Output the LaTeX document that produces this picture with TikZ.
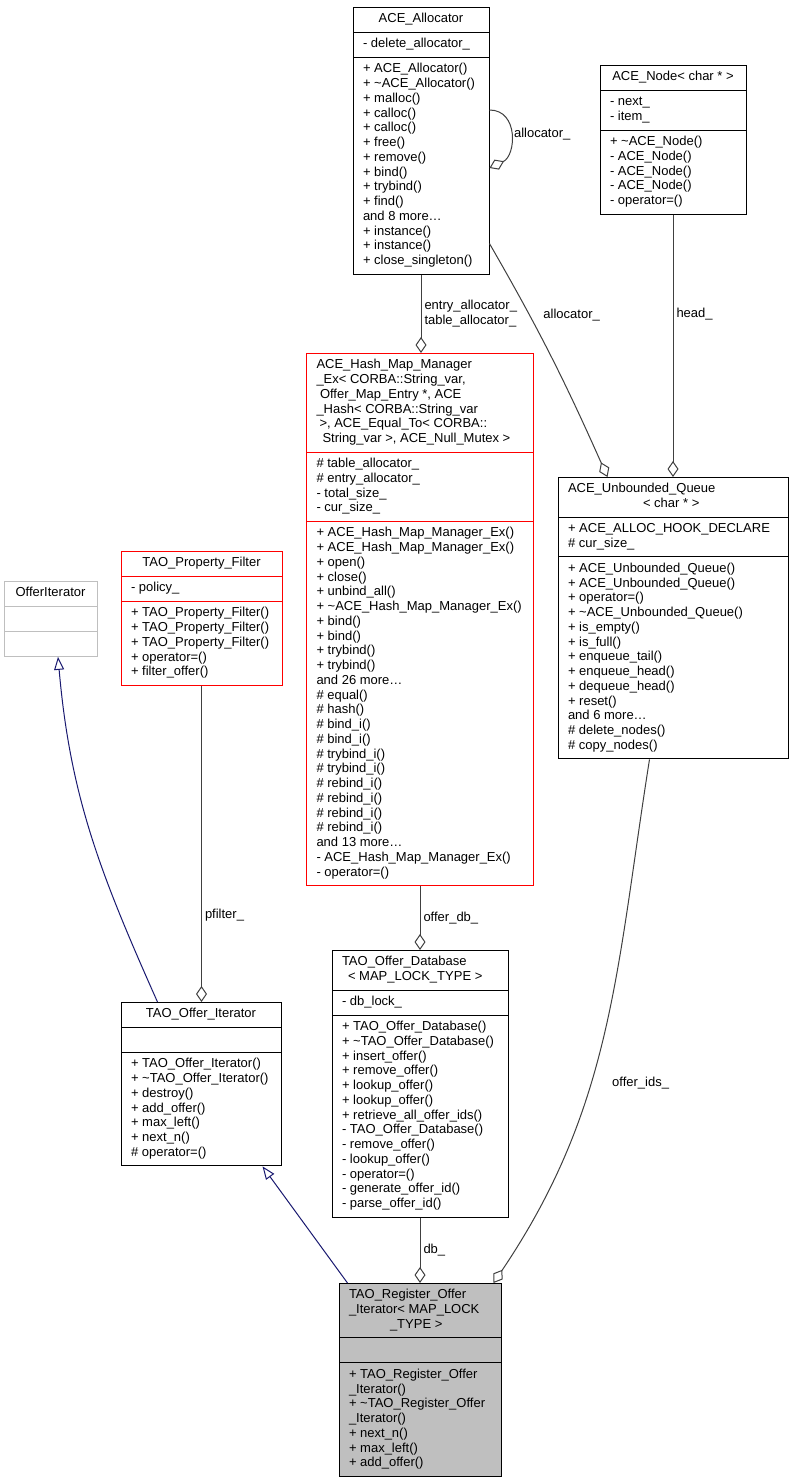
\documentclass[tikz,border=0pt]{standalone}
\usepackage{fontspec}
\setmainfont{Liberation Sans}
\usepackage{tikz}
\usetikzlibrary{shapes.multipart,arrows.meta}

\definecolor{edgegray}{RGB}{64,64,64}
\definecolor{inhblue}{RGB}{25,25,112}
\definecolor{boxgray}{RGB}{191,191,191}
\definecolor{boxred}{RGB}{255,0,0}

\newcommand{\clsrows}[1]{\begin{tabular}{@{}l@{}}#1\end{tabular}}

\begin{document}
\begin{tikzpicture}[x=1pt,y=-1pt,
  every node/.style={font=\fontsize{13}{14.75}\selectfont},
  cls/.style={draw=black,line width=1pt,fill=white,rectangle split,rectangle split parts=3,
    rectangle split part align={center,left,left},anchor=north,
    inner xsep=10pt,inner ysep=4.6pt,minimum width=#1},
  longtitle/.style={rectangle split part align={left,left,left}},
  agg/.style={draw=edgegray,line width=1pt,-{Diamond[open,length=16pt,width=11pt]}},
  inh/.style={draw=inhblue,line width=1pt,-{Triangle[open,length=13pt,width=10pt]}},
  lbl/.style={inner sep=3pt}]
  \useasboundingbox[fill=white] (0,0) rectangle (793,1483);

  \node[cls=136pt] (alloc) at (421,7) {\clsrows{ACE\_Allocator}
    \nodepart{two}\clsrows{- delete\_allocator\_}
    \nodepart{three}\clsrows{+ ACE\_Allocator()\\+ \textasciitilde ACE\_Allocator()\\+ malloc()\\
      + calloc()\\+ calloc()\\+ free()\\+ remove()\\+ bind()\\+ trybind()\\+ find()\\
      and 8 more\ldots\\+ instance()\\+ instance()\\+ close\_singleton()}};
  \node[cls=146pt] (anode) at (673,65) {\clsrows{ACE\_Node< char * >}
    \nodepart{two}\clsrows{- next\_\\- item\_}
    \nodepart{three}\clsrows{+ \textasciitilde ACE\_Node()\\- ACE\_Node()\\- ACE\_Node()\\
      - ACE\_Node()\\- operator=()}};
  \node[cls=227pt,longtitle,draw=boxred] (hash) at (420,353) {\clsrows{ACE\_Hash\_Map\_Manager\\
      \_Ex< CORBA::String\_var,\\\hspace*{3.5pt}Offer\_Map\_Entry *, ACE\\
      \_Hash< CORBA::String\_var\\\hspace*{3pt}>, ACE\_Equal\_To< CORBA::\\
      \hspace*{6pt}String\_var >, ACE\_Null\_Mutex >}
    \nodepart{two}\clsrows{\# table\_allocator\_\\\# entry\_allocator\_\\- total\_size\_\\- cur\_size\_}
    \nodepart{three}\clsrows{+ ACE\_Hash\_Map\_Manager\_Ex()\\+ ACE\_Hash\_Map\_Manager\_Ex()\\
      + open()\\+ close()\\+ unbind\_all()\\+ \textasciitilde ACE\_Hash\_Map\_Manager\_Ex()\\
      + bind()\\+ bind()\\+ trybind()\\+ trybind()\\and 26 more\ldots\\\# equal()\\\# hash()\\
      \# bind\_i()\\\# bind\_i()\\\# trybind\_i()\\\# trybind\_i()\\\# rebind\_i()\\\# rebind\_i()\\
      \# rebind\_i()\\\# rebind\_i()\\and 13 more\ldots\\- ACE\_Hash\_Map\_Manager\_Ex()\\- operator=()}};
  \node[cls=230pt,longtitle] (queue) at (673,477) {\clsrows{ACE\_Unbounded\_Queue\\
      \hspace*{75pt}< char * >}
    \nodepart{two}\clsrows{+ ACE\_ALLOC\_HOOK\_DECLARE\\\# cur\_size\_}
    \nodepart{three}\clsrows{+ ACE\_Unbounded\_Queue()\\+ ACE\_Unbounded\_Queue()\\+ operator=()\\
      + \textasciitilde ACE\_Unbounded\_Queue()\\+ is\_empty()\\+ is\_full()\\+ enqueue\_tail()\\
      + enqueue\_head()\\+ dequeue\_head()\\+ reset()\\and 6 more\ldots\\\# delete\_nodes()\\
      \# copy\_nodes()}};
  \node[cls=93pt,draw=boxgray] (offit) at (50.5,581) {\clsrows{OfferIterator}
    \nodepart{two}\clsrows{\strut\hspace*{1pt}}
    \nodepart{three}\clsrows{\strut\hspace*{1pt}}};
  \node[cls=161pt,draw=boxred] (filter) at (201.5,551) {\clsrows{TAO\_Property\_Filter}
    \nodepart{two}\clsrows{- policy\_}
    \nodepart{three}\clsrows{+ TAO\_Property\_Filter()\\+ TAO\_Property\_Filter()\\
      + TAO\_Property\_Filter()\\+ operator=()\\+ filter\_offer()}};
  \node[cls=160pt] (oiter) at (201,1002) {\clsrows{TAO\_Offer\_Iterator}
    \nodepart{two}\clsrows{\strut\hspace*{1pt}}
    \nodepart{three}\clsrows{+ TAO\_Offer\_Iterator()\\+ \textasciitilde TAO\_Offer\_Iterator()\\
      + destroy()\\+ add\_offer()\\+ max\_left()\\+ next\_n()\\\# operator=()}};
  \node[cls=176pt,longtitle] (db) at (420,950) {\clsrows{TAO\_Offer\_Database\\
      \hspace*{6pt}< MAP\_LOCK\_TYPE >}
    \nodepart{two}\clsrows{- db\_lock\_}
    \nodepart{three}\clsrows{+ TAO\_Offer\_Database()\\+ \textasciitilde TAO\_Offer\_Database()\\
      + insert\_offer()\\+ remove\_offer()\\+ lookup\_offer()\\+ lookup\_offer()\\
      + retrieve\_all\_offer\_ids()\\- TAO\_Offer\_Database()\\- remove\_offer()\\
      - lookup\_offer()\\- operator=()\\- generate\_offer\_id()\\- parse\_offer\_id()}};
  \node[cls=162pt,longtitle,fill=boxgray] (reg) at (420,1283) {\clsrows{TAO\_Register\_Offer\\
      \_Iterator< MAP\_LOCK\\\hspace*{41pt}\_TYPE >}
    \nodepart{two}\clsrows{\strut\hspace*{1pt}}
    \nodepart{three}\clsrows{+ TAO\_Register\_Offer\\\_Iterator()\\+ \textasciitilde TAO\_Register\_Offer\\
      \_Iterator()\\+ next\_n()\\+ max\_left()\\+ add\_offer()}};

  \draw[agg] ([yshift=-103pt]alloc.north east) to[out=0,in=25,looseness=1.3]
    node[right,lbl] {allocator\_} ([yshift=-161pt]alloc.north east);
  \draw[agg] (alloc.south) -- (alloc.south |- hash.north)
    node[midway,right,lbl,align=left] {entry\_allocator\_\\table\_allocator\_};
  \draw[agg] ([yshift=31pt]alloc.south east) to[out=-60,in=114]
    node[pos=0.3,right=10pt] {allocator\_} ([xshift=50pt]queue.north west);
  \draw[agg] (anode.south) -- (anode.south |- queue.north)
    node[pos=0.38,right,lbl] {head\_};
  \draw[agg] (hash.south) -- (hash.south |- db.north)
    node[midway,right,lbl] {offer\_db\_};
  \draw[agg] (filter.south) -- (filter.south |- oiter.north)
    node[pos=0.725,right,lbl] {pfilter\_};
  \draw[agg] (db.south) -- (db.south |- reg.north)
    node[midway,right,lbl] {db\_};
  \draw[agg] ([xshift=92pt]queue.south west) to[out=-99,in=56]
    node[pos=0.6,right=18pt] {offer\_ids\_} ([xshift=-8pt]reg.north east);
  \draw[inh] ([xshift=37pt]oiter.north west) to[out=114,in=-85] ([xshift=7.5pt]offit.south);
  \draw[inh] ([xshift=9pt]reg.north west) -- ([xshift=-19pt]oiter.south east);
\end{tikzpicture}
\end{document}
